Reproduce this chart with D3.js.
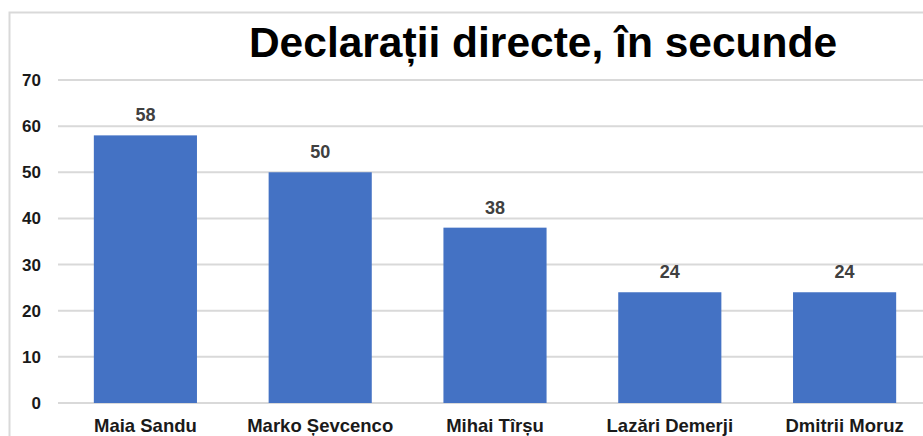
<!DOCTYPE html>
<html>
<head>
<meta charset="utf-8">
<script src="https://cdn.jsdelivr.net/npm/d3@7"></script>
<style>
  body { margin: 0; background: #fff; }
  svg { display: block; font-family: "Liberation Sans", Arial, sans-serif; }
</style>
</head>
<body>
<div id="chart"></div>
<script>
const width = 923
const height = 436

const names = ["Maia Sandu", "Marko Șevcenco", "Mihai Tîrșu", "Lazări Demerji", "Dmitrii Moruz"]
const seconds = [58, 50, 38, 24, 24]
const yTicks = [0, 10, 20, 30, 40, 50, 60, 70]

const svg = d3.select("#chart")
  .append("svg")
    .attr("width", width)
    .attr("height", height)

// outer chart frame (cut off on right/bottom like the screenshot)
svg.append("rect")
  .attr("x", 9.5).attr("y", 12.5)
  .attr("width", 1000).attr("height", 1000)
  .attr("fill", "none")
  .attr("stroke", "#d9d9d9")
  .attr("stroke-width", 2)

const x = d3.scaleBand()
  .domain(names)
  .range([58, 932])
  .paddingInner(0.41)
  .paddingOuter(0.205)

const y = d3.scaleLinear()
  .domain([0, 70])
  .range([403, 80])

// gridlines
svg.append("g")
  .selectAll("line")
  .data(yTicks)
  .enter()
  .append("line")
    .attr("x1", 58)
    .attr("x2", width)
    .attr("y1", d => y(d))
    .attr("y2", d => y(d))
    .attr("stroke", "#d9d9d9")
    .attr("stroke-width", 2)

// y axis labels
const yAxis = svg.append("g")
  .attr("transform", "translate(41,0)")
  .call(d3.axisLeft(y).tickValues(yTicks).tickSize(0).tickPadding(0))
yAxis.select(".domain").remove()
yAxis.selectAll("text")
  .attr("font-size", 17)
  .attr("font-weight", "bold")
  .attr("fill", "#1a1a1a")
  .attr("font-family", "Liberation Sans, Arial, sans-serif")

// bars
svg.selectAll(".bar")
  .data(names)
  .enter()
  .append("rect")
    .attr("class", "bar")
    .attr("x", d => x(d))
    .attr("y", (d, i) => y(seconds[i]))
    .attr("width", x.bandwidth())
    .attr("height", (d, i) => y(0) - y(seconds[i]))
    .attr("fill", "#4472c4")

// value labels
svg.selectAll(".val")
  .data(names)
  .enter()
  .append("text")
    .attr("x", d => x(d) + x.bandwidth() / 2)
    .attr("y", (d, i) => y(seconds[i]) - 14)
    .attr("text-anchor", "middle")
    .attr("font-size", 18)
    .attr("font-weight", "bold")
    .attr("fill", "#404040")
    .text((d, i) => seconds[i])

// x axis labels
const xAxis = svg.append("g")
  .attr("transform", "translate(0,403)")
  .call(d3.axisBottom(x).tickSize(0).tickPadding(16))
xAxis.select(".domain").remove()
xAxis.selectAll("text")
  .attr("font-size", 18.5)
  .attr("font-weight", "bold")
  .attr("fill", "#1a1a1a")
  .attr("font-family", "Liberation Sans, Arial, sans-serif")

// title
svg.append("text")
  .attr("x", 543)
  .attr("y", 57)
  .attr("text-anchor", "middle")
  .attr("font-size", 42.5)
  .attr("font-weight", "bold")
  .attr("fill", "#000")
  .text("Declarații directe, în secunde")
</script>
</body>
</html>
